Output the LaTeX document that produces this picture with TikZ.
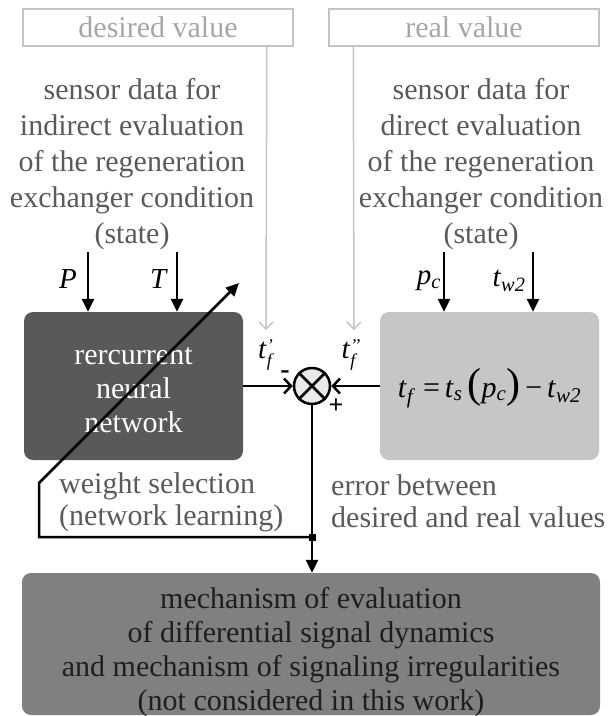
\documentclass[tikz,border=0pt]{standalone}
\usepackage{fontspec}
\setmainfont{Liberation Serif}
\usetikzlibrary{arrows.meta,calc}
\definecolor{txtgray}{HTML}{5A5A5A}
\definecolor{lightline}{HTML}{C4C4C4}
\definecolor{lighttxt}{HTML}{A6A6A6}
\definecolor{nnfill}{HTML}{595959}
\definecolor{formfill}{HTML}{C6C6C6}
\definecolor{botfill}{HTML}{808080}
\definecolor{sumfill}{HTML}{EAEAEA}
\definecolor{bottxt}{HTML}{1E1E1E}
\newcommand{\primestack}[1]{\raisebox{-8pt}{\fontsize{18}{21}\selectfont\shortstack[l]{\textit{#1}\\\textit{f}}}}
\begin{document}
\begin{tikzpicture}[x=1pt,y=-1pt,
  big/.style={font=\fontsize{30}{36}\selectfont},
  valbox/.style={draw=lightline, line width=1.5pt, minimum width=270pt, minimum height=37pt, inner sep=0pt, text=lighttxt, big},
  block/.style={rounded corners=9pt, inner sep=0pt},
  sig/.style={line width=2.5pt, -{Triangle[length=13pt,width=12pt]}},
  sumin/.style={line width=2.5pt, -{Straight Barb[length=7pt,width=15pt,line width=2.5pt]}},
  grayarr/.style={draw=lightline, line width=1.5pt, -{Straight Barb[length=7pt,width=14pt,line width=1.5pt]}},
  lbl/.style={font=\fontsize{29}{34}\selectfont, inner sep=0pt}
]
\useasboundingbox (0,0) rectangle (612,716);

% value boxes
\node[valbox] (desired) at (158,27.5) {desired value};
\node[valbox] (real) at (464,27.5) {real value};

% sensor texts
\node[big, text=txtgray, align=center, inner sep=0pt] (lefttxt) at (132,164)
  {sensor data for\\indirect evaluation\\of the regeneration\\exchanger condition\\(state)};
\node[big, text=txtgray, align=center, inner sep=0pt] (righttxt) at (481,164)
  {sensor data for\\direct evaluation\\of the regeneration\\exchanger condition\\(state)};

% blocks
\node[block, fill=nnfill, minimum width=219pt, minimum height=148pt] (nn) at (133.5,386) {};
\node[text=white, align=center, inner sep=0pt, font=\fontsize{30}{34}\selectfont] (nntxt)
  at ($(nn.center)+(0,4)$) {rercurrent\\neural\\network};
\node[block, fill=formfill, minimum width=219pt, minimum height=148pt] (form) at (489.5,386) {};
\node[inner sep=0pt, font=\fontsize{30}{36}\selectfont] (formtxt) at ($(form.center)+(0,2)$)
  {\textit{t}\textsubscript{\textit{f}}\ =\,\textit{t}\textsubscript{\textit{s}}\,{\fontsize{42}{42}\selectfont(}\textit{p}\textsubscript{\textit{c}}{\fontsize{42}{42}\selectfont)}\,−\,\textit{t}\textsubscript{\textit{w2}}};
\node[block, fill=botfill, minimum width=578pt, minimum height=142pt] (bot) at (311,644) {};
\node[text=bottxt, align=center, inner sep=0pt, font=\fontsize{30}{34}\selectfont] (bottxt)
  at ($(bot.center)+(0,8)$)
  {mechanism of evaluation\\of differential signal dynamics\\and mechanism of signaling irregularities\\(not considered in this work)};

% summing junction
\node[circle, draw, line width=2.5pt, fill=sumfill, minimum size=36pt, inner sep=0pt] (sum) at (312,386) {};
\draw[line width=2.5pt] (sum.north west) -- (sum.south east);
\draw[line width=2.5pt] (sum.north east) -- (sum.south west);

% gray arrows from value boxes
\coordinate (dtop) at ($(desired.south east)+(-27,0)$);
\coordinate (dend) at (266,330);
\coordinate (rtop) at ($(real.south west)+(25,0)$);
\coordinate (rend) at (354,330);
\draw[grayarr] (dtop) -- (dend);
\draw[grayarr] (rtop) -- (rend);

% input arrows
\coordinate (Pin) at (88,252);
\coordinate (Tin) at (177,252);
\coordinate (pcin) at (444,252);
\coordinate (twin) at (533,252);
\draw[sig] (Pin) -- (Pin |- nn.north);
\draw[sig] (Tin) -- (Tin |- nn.north);
\draw[sig] (pcin) -- (pcin |- form.north);
\draw[sig] (twin) -- (twin |- form.north);
\node[lbl] (Plbl) at (68,279) {\textit{P}};
\node[lbl] (Tlbl) at (159,279) {\textit{T}};
\node[lbl] (pclbl) at (429,281) {\textit{p}\textsubscript{\textit{c}}};
\node[lbl] (twlbl) at (509,281) {\textit{t}\textsubscript{\textit{w2}}};

% signals into the summing junction
\draw[sumin] (nn.east) -- (sum.west);
\draw[sumin] (form.west) -- (sum.east);
\node[lbl] (tf1) at (266,355) {\textit{t}\primestack{’}};
\node[lbl] (tf2) at (351,355) {\textit{t}\primestack{’’}};
\node[font=\fontsize{28}{28}\selectfont\bfseries, inner sep=0pt] (minus) at (285,375) {-};
\node[font=\fontsize{26}{26}\selectfont\bfseries, inner sep=0pt] (plus) at (336,406) {+};

% output and feedback
\coordinate (J) at (312,537);
\draw[sig] (sum.south) -- (sum |- bot.north);
\coordinate (fbA) at (39,537);
\coordinate (fbB) at (39,483);
\coordinate (fbEnd) at (239,283);
\draw[sig] (J) -- (fbA) -- (fbB) -- (fbEnd);
\node[fill=black, minimum size=7pt, inner sep=0pt] (jsq) at (J) {};

% annotations
\node[text=txtgray, align=left, anchor=west, inner sep=0pt, font=\fontsize{30}{32}\selectfont] (wsel) at (59,502)
  {weight selection\\(network learning)};
\node[text=txtgray, align=left, anchor=west, inner sep=0pt, font=\fontsize{30}{32}\selectfont] (errtxt) at (331,501)
  {error between\\desired and real values};
\end{tikzpicture}
\end{document}
